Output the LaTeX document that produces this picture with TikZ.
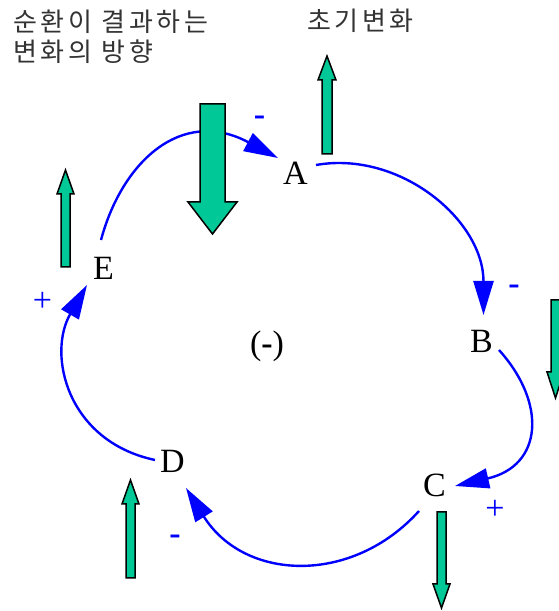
\documentclass[tikz,border=0pt]{standalone}
\usepackage{fontspec}
\setmainfont{Liberation Serif}
\newfontfamily\krfont[LetterSpace=14]{Noto Sans CJK KR}
\usetikzlibrary{arrows.meta,calc}
\definecolor{gfill}{RGB}{0,200,150}
\definecolor{lblue}{RGB}{0,0,255}
% cx, y tail, y head base, y tip, shaft half width, head half width
\newcommand\gArrow[6]{%
  \draw[garrow] ({#1-#5},#2) -- ({#1+#5},#2) -- ({#1+#5},#3) -- ({#1+#6},#3)
    -- (#1,#4) -- ({#1-#6},#3) -- ({#1-#5},#3) -- cycle;}
\begin{document}
\begin{tikzpicture}[x=1pt,y=1pt,
  var/.style={font=\fontsize{34}{34}\selectfont, inner sep=0pt},
  sign/.style={font=\fontsize{34}{34}\selectfont, text=lblue, inner sep=0pt},
  minus/.style={sign, font=\fontsize{34}{34}\selectfont\bfseries},
  link/.style={draw=lblue, line width=2.4pt, -{Triangle[length=34pt,width=20pt]}},
  kr/.style={font=\krfont\fontsize{26}{30}\selectfont, text=black!80, inner sep=0pt, align=left, anchor=base west},
  garrow/.style={fill=gfill, draw=black, line width=1.5pt, line join=miter}]
\useasboundingbox (0,0) rectangle (559,611);
\fill[white] (0,0) rectangle (559,611);

% titles
\node[kr] (t1) at (13,549) {순환이 결과하는\\변화의 방향};
\node[kr] (t2) at (307,580) {초기변화};

% variables
\node[var] (A) at (295.5,437.5) {A};
\node[var] (B) at (481.5,269.5) {B};
\node[var] (C) at (434.5,126) {C};
\node[var] (D) at (172.5,149.5) {D};
\node[var] (E) at (103.5,342.5) {E};
\node[var] (L) at (267,265) {(\textbf{-})};

% polarity signs
\node[minus] (sA) at (259.5,490) {-};
\node[minus] (sB) at (514,321) {-};
\node[sign] (sC) at (495,101) {+};
\node[minus] (sD) at (175,71) {-};
\node[sign] (sE) at (42.5,309) {+};

% causal links
\draw[link] ($(E)+(-2.5,28.5)$) .. controls +(75:80) and +(152:110) .. ($(A)+(-17.5,15.5)$);
\draw[link] ($(A)+(20.5,8.5)$) .. controls +(10:85) and +(90:95) .. ($(B)+(2,26.5)$);
\draw[link] ($(B)+(17.5,-8.5)$) .. controls +(-48:72) and +(13:90) .. ($(C)+(20.5,-1)$);
\draw[link] ($(C)+(-15.5,-26)$) .. controls +(228:100) and +(-58:110) .. ($(D)+(13.5,-26.5)$);
\draw[link] ($(D)+(-17.5,1.5)$) .. controls +(168:90) and +(240:80) .. ($(E)+(-16.5,-16.5)$);

% change arrows
\gArrow{212.5}{507}{409}{377}{12.5}{24.5}
\gArrow{327}{457}{531}{555}{5}{9}
\gArrow{65.5}{344}{417}{441}{4.5}{8.5}
\gArrow{130.5}{33}{107}{131}{4.5}{8.5}
\gArrow{555.5}{311}{239}{213}{4.5}{8.5}
\gArrow{441.5}{99}{27}{3}{4.5}{8.5}
\end{tikzpicture}
\end{document}
